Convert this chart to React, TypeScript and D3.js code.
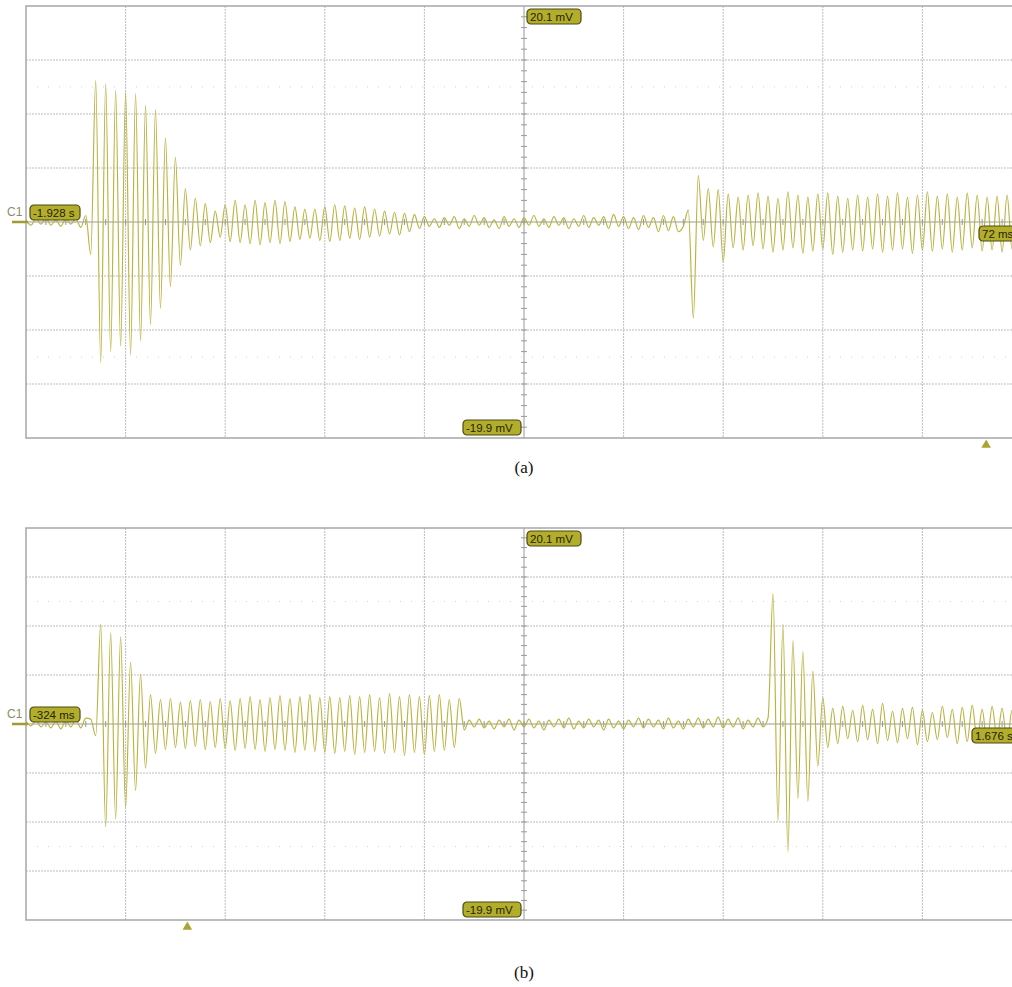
import React, { useEffect, useRef } from "react";
import * as d3 from "d3";

// scope settings: 10 div x 200 ms, 8 div x 5 mV
const timeSpan = 2.0;
const sampleStep = 0.01; // one stored extreme every 10 ms
const voltTicks = [-15, -10, -5, 5, 10, 15];
const faintRows = [12.5, -12.5];

const panelAStart = -1.928;
const panelBStart = -0.324;
const topLabel = "20.1 mV";
const bottomLabel = "-19.9 mV";
const channelName = "C1";
const panelALabels = ["-1.928 s", "72 ms"];
const panelBLabels = ["-324 ms", "1.676 s"];
const captions = ["(a)", "(b)"];

// trace (a), mV, peaks and troughs
const traceA = [
  0.2, -0.3, 0.3, -0.2, 0.4, -0.3, 0.2, -0.4, 0.3, -0.2,
  0.3, -0.5, 0.6, -3.0, 13.1, -13.0, 12.8, -12.0, 12.2, -11.5,
  12.0, -12.3, 11.9, -11.0, 10.8, -9.5, 10.4, -8.0, 7.8, -6.0,
  6.0, -4.0, 3.1, -2.6, 2.2, -2.2, 1.7, -1.9, 1.0, -1.4,
  1.6, -1.8, 2.0, -1.9, 1.6, -2.0, 2.0, -2.1, 1.8, -1.9,
  2.0, -2.0, 1.9, -1.8, 1.4, -1.6, 1.2, -1.5, 1.2, -1.7,
  1.4, -1.8, 1.6, -1.7, 1.5, -1.5, 1.3, -1.6, 1.4, -1.4,
  1.2, -1.3, 1.0, -1.1, 0.9, -1.2, 0.8, -0.9, 0.7, -0.6,
  0.5, -0.4, 0.3, -0.5, 0.4, -0.3, 0.5, -0.6, 0.3, -0.4,
  0.6, -0.3, 0.4, -0.5, 0.2, -0.6, 0.5, -0.4, 0.3, -0.5,
  0.4, -0.3, 0.6, -0.4, 0.3, -0.5, 0.5, -0.3, 0.4, -0.6,
  0.3, -0.4, 0.6, -0.5, 0.4, -0.3, 0.5, -0.6, 0.7, -0.4,
  0.5, -0.6, 0.4, -0.7, 0.6, -0.5, 0.4, -0.9, 0.6, -0.8,
  0.5, -0.9, -0.4, 1.1, -8.9, 4.3, -1.7, 3.1, -2.3, 3.0,
  -3.7, 2.6, -2.4, 2.3, -2.6, 2.5, -2.2, 2.7, -2.5, 2.4,
  -2.8, 2.2, -2.6, 2.8, -2.4, 2.5, -2.9, 2.3, -2.7, 2.6,
  -2.5, 2.7, -3.0, 2.4, -2.8, 2.2, -2.6, 2.5, -2.7, 2.3,
  -2.5, 2.6, -2.8, 2.4, -2.6, 2.7, -2.5, 2.3, -2.9, 2.5,
  -2.6, 2.8, -2.7, 2.4, -2.5, 2.6, -2.8, 2.3, -2.6, 2.7,
  -2.4, 2.5, -2.7, 2.3, -2.6, 2.4, -2.8, 2.5, -2.5, 2.4,
  -2.3,
];

// trace (b), mV
const traceB = [
  0.3, -0.2, 0.4, -0.3, 0.2, -0.4, 0.3, -0.5, 0.4, -0.3,
  0.5, -0.4, 0.6, 0.5, -1.2, 10.2, -10.5, 9.3, -9.7, 8.9,
  -8.5, 6.3, -6.8, 5.1, -4.5, 3.0, -3.0, 2.5, -2.6, 2.6,
  -2.4, 2.2, -2.5, 2.4, -2.3, 2.5, -2.6, 2.3, -2.4, 2.6,
  -2.5, 2.4, -2.7, 2.6, -2.5, 2.8, -2.6, 2.5, -2.8, 2.7,
  -2.6, 2.9, -2.7, 2.6, -2.9, 2.8, -2.7, 3.0, -2.8, 2.7,
  -2.9, 2.8, -3.0, 2.7, -2.8, 2.9, -3.1, 2.8, -2.9, 3.0,
  -2.8, 2.7, -3.0, 3.1, -2.9, 2.8, -3.2, 3.0, -2.9, 2.8,
  -3.1, 2.9, -2.8, 3.0, -2.7, 2.5, -2.4, 2.6, -0.6, 0.4,
  -0.3, 0.5, -0.4, 0.3, -0.5, 0.4, -0.3, 0.5, -0.6, 0.4,
  -0.3, 0.5, -0.4, 0.3, -0.6, 0.4, -0.3, 0.5, -0.4, 0.6,
  -0.5, 0.3, -0.4, 0.5, -0.3, 0.4, -0.6, 0.5, -0.4, 0.3,
  -0.5, 0.4, -0.3, 0.6, -0.4, 0.5, -0.3, 0.4, -0.5, 0.6,
  -0.4, 0.3, -0.5, 0.5, -0.3, 0.6, -0.4, 0.5, -0.3, 0.7,
  -0.4, 0.5, -0.3, 0.6, -0.5, 0.4, -0.3, 0.6, -0.3, 0.6,
  13.3, -9.9, 10.2, -13.0, 8.5, -7.6, 7.4, -7.9, 5.4, -4.3,
  2.7, -2.4, 1.6, -2.0, 1.8, -1.5, 1.4, -1.8, 1.9, -1.6,
  1.5, -2.0, 2.1, -1.7, 1.3, -1.9, 1.6, -1.5, 1.7, -2.1,
  1.4, -1.8, 1.2, -1.6, 1.8, -1.4, 1.5, -2.0, 1.7, -1.8,
  1.9, -1.6, 1.5, -1.9, 1.8, -1.5, 1.6, -1.8, 1.4, -1.7,
  1.5,
];

const traceColor = "#bab33f";
const badgeFill = "#b3ad2c";
const badgeStroke = "#4d4a12";
const gridColor = "#bdbdbd";

function ScopePanel({ id, top, bottom, start, trace, labels, rightX, caption, captionY }) {
  const ref = useRef(null);

  useEffect(() => {
    if (!ref.current) return;
    const g = d3.select(ref.current);
    g.selectAll("*").remove();

    const x = d3.scaleLinear().domain([start, start + timeSpan]).range([26, 1022]);
    const y = d3.scaleLinear().domain([-20, 20]).range([bottom, top]);
    const mid = start + timeSpan / 2;

    g.append("clipPath")
      .attr("id", id)
      .append("rect")
      .attr("x", 26)
      .attr("y", top)
      .attr("width", 996)
      .attr("height", bottom - top);

    // faint dotted rows
    g.selectAll("line.faint")
      .data(faintRows)
      .enter()
      .append("line")
      .attr("x1", 26)
      .attr("x2", 1022)
      .attr("y1", (d) => y(d))
      .attr("y2", (d) => y(d))
      .attr("stroke", "#d2d2d2")
      .attr("stroke-dasharray", "1,10");

    // major grid
    const divs = d3.range(1, 10).filter((d) => d !== 5);
    g.selectAll("line.vgrid")
      .data(divs)
      .enter()
      .append("line")
      .attr("x1", (d) => x(start + d * 0.2))
      .attr("x2", (d) => x(start + d * 0.2))
      .attr("y1", top)
      .attr("y2", bottom)
      .attr("stroke", gridColor)
      .attr("stroke-dasharray", "2,1");
    g.selectAll("line.hgrid")
      .data(voltTicks)
      .enter()
      .append("line")
      .attr("x1", 26)
      .attr("x2", 1022)
      .attr("y1", (d) => y(d))
      .attr("y2", (d) => y(d))
      .attr("stroke", gridColor)
      .attr("stroke-dasharray", "2,1");

    // centre axes with minor ticks
    g.append("line")
      .attr("x1", 26)
      .attr("x2", 1022)
      .attr("y1", y(0))
      .attr("y2", y(0))
      .attr("stroke", "#999");
    g.append("line")
      .attr("x1", x(mid))
      .attr("x2", x(mid))
      .attr("y1", top)
      .attr("y2", bottom)
      .attr("stroke", "#999");
    g.selectAll("line.xminor")
      .data(d3.range(1, 50))
      .enter()
      .append("line")
      .attr("x1", (d) => x(start + d * 0.04))
      .attr("x2", (d) => x(start + d * 0.04))
      .attr("y1", y(0) - 3)
      .attr("y2", y(0) + 3)
      .attr("stroke", "#999");
    g.selectAll("line.yminor")
      .data(d3.range(-19, 20))
      .enter()
      .append("line")
      .attr("x1", x(mid) - 3)
      .attr("x2", x(mid) + 3)
      .attr("y1", (d) => y(d))
      .attr("y2", (d) => y(d))
      .attr("stroke", "#999");

    // trace
    const line = d3
      .line()
      .x((d, i) => x(start + i * sampleStep))
      .y((d) => y(d))
      .curve(d3.curveMonotoneX);
    g.append("path")
      .datum(trace)
      .attr("clip-path", `url(#${id})`)
      .attr("d", line)
      .attr("fill", "none")
      .attr("stroke", traceColor)
      .attr("stroke-width", 1.15);

    // frame
    g.append("rect")
      .attr("x", 26)
      .attr("y", top)
      .attr("width", 996)
      .attr("height", bottom - top)
      .attr("fill", "none")
      .attr("stroke", "#a6a6a6")
      .attr("stroke-width", 1.5);

    const badge = (bx, by, w, text) => {
      const b = g.append("g").attr("transform", `translate(${bx},${by})`);
      b.append("rect")
        .attr("width", w)
        .attr("height", 15)
        .attr("rx", 4)
        .attr("fill", badgeFill)
        .attr("stroke", badgeStroke)
        .attr("stroke-width", 1.2);
      b.append("text")
        .attr("x", 3)
        .attr("y", 11.5)
        .attr("font-family", "'Liberation Sans Narrow', 'Liberation Sans', Arial, sans-serif")
        .attr("font-size", 11.5)
        .attr("fill", "#23230a")
        .text(text);
    };

    // channel marker
    g.append("line")
      .attr("x1", 12)
      .attr("x2", 28)
      .attr("y1", y(0))
      .attr("y2", y(0))
      .attr("stroke", "#a39c2c")
      .attr("stroke-width", 2.5);
    g.append("text")
      .attr("x", 7)
      .attr("y", y(0) - 6)
      .attr("font-family", "'Liberation Sans Narrow', 'Liberation Sans', Arial, sans-serif")
      .attr("font-size", 12)
      .attr("fill", "#8e8c66")
      .text(channelName);

    badge(x(mid) + 3, top + 3, 54, topLabel);
    badge(x(mid) - 61, bottom - 18, 58, bottomLabel);
    badge(30, y(0) - 17, 50, labels[0]);
    badge(rightX, y(0) + 4, 50, labels[1]);

    // trigger marker at t = 0
    g.append("path")
      .attr("d", d3.symbol(d3.symbolTriangle, 40)())
      .attr("transform", `translate(${x(0)},${bottom + 7})`)
      .attr("fill", "#a9a530");

    g.append("text")
      .attr("x", x(mid))
      .attr("y", captionY)
      .attr("text-anchor", "middle")
      .attr("font-family", "'Liberation Serif', 'Times New Roman', serif")
      .attr("font-size", 17)
      .attr("fill", "#111")
      .text(caption);
  }, [id, top, bottom, start, trace, labels, rightX, caption, captionY]);

  return <g ref={ref} />;
}

export default function App() {
  return (
    <div style={{ position: "absolute", left: 0, top: 0, width: 1012, height: 987, background: "#fff" }}>
      <svg width={1012} height={987}>
        <ScopePanel
          id="clipA"
          top={6}
          bottom={438}
          start={panelAStart}
          trace={traceA}
          labels={panelALabels}
          rightX={979}
          caption={captions[0]}
          captionY={473}
        />
        <ScopePanel
          id="clipB"
          top={528}
          bottom={920}
          start={panelBStart}
          trace={traceB}
          labels={panelBLabels}
          rightX={972}
          caption={captions[1]}
          captionY={978}
        />
      </svg>
    </div>
  );
}
